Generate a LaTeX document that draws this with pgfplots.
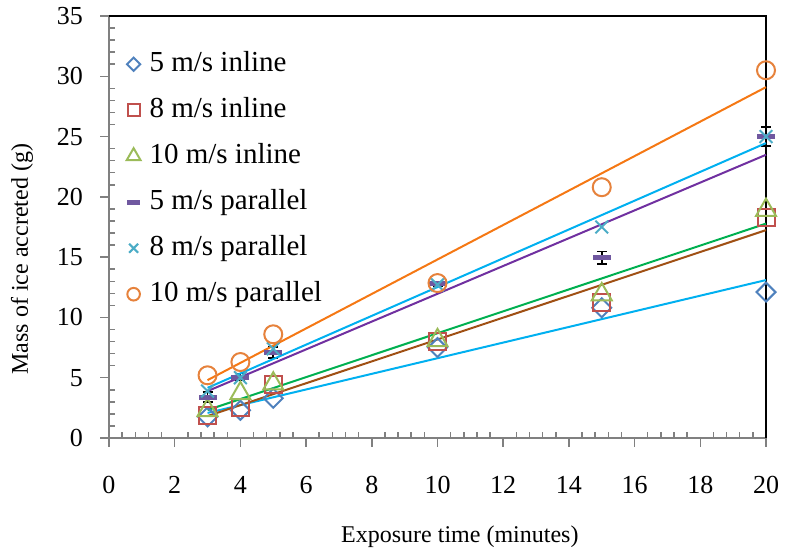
\documentclass[border=0pt]{standalone}
\usepackage{fontspec}
\setmainfont{Liberation Serif}
\usepackage{pgfplots}
\pgfplotsset{compat=1.18}

\definecolor{mkblue}{RGB}{79,129,189}
\definecolor{mkred}{RGB}{192,80,77}
\definecolor{mkgreen}{RGB}{155,187,89}
\definecolor{mkpurple}{RGB}{112,88,160}
\definecolor{mkteal}{RGB}{75,172,198}
\definecolor{mkorange}{RGB}{230,130,60}
\definecolor{lnorange}{RGB}{245,120,20}
\definecolor{lncyan}{RGB}{0,176,240}
\definecolor{lnpurple}{RGB}{112,48,160}
\definecolor{lngreen}{RGB}{0,176,80}
\definecolor{lnbrown}{RGB}{160,80,20}
\definecolor{axgray}{RGB}{128,128,128}

\begin{document}
\begin{tikzpicture}
\begin{axis}[
  name=main,
  at={(0,0)}, anchor=south west,
  scale only axis, width=657pt, height=422pt,
  xmin=0, xmax=20, ymin=0, ymax=35,
  xtick={0,2,...,20}, ytick={0,5,...,35},
  minor x tick num=4, minor y tick num=4,
  xtick pos=bottom, ytick pos=left,
  tick align=inside,
  major tick length=-9pt, minor tick length=6pt,
  axis line style={axgray, line width=2.5pt},
  tick style={axgray, line width=1.5pt},
  clip=false,
  /pgf/number format/assume math mode=true,
  ticklabel style={font=\fontsize{26}{31}\selectfont, inner sep=0pt},
  yticklabel style={anchor=east, xshift=-26pt},
  xticklabel style={anchor=north, yshift=-38pt},
  xlabel={Exposure time (minutes)},
  ylabel={Mass of ice accreted (g)},
  every axis x label/.style={at={([yshift=-99pt]axis description cs:0.534,0)}, anchor=center, font=\fontsize{24}{29}\selectfont},
  every axis y label/.style={at={([xshift=-87pt]axis description cs:0,0.424)}, anchor=center, rotate=90, font=\fontsize{24}{29}\selectfont},
  legend style={draw=none, fill=none, at={(axis description cs:0.022,0.9265)}, anchor=north west,
    font=\fontsize{29}{34}\selectfont, row sep=16pt, column sep=7pt,
    nodes={inner sep=2pt, text height=20pt, text depth=6pt}},
  legend cell align=left,
  legend image code/.code={\draw[#1, only marks, every mark/.append style={scale=0.7}] plot coordinates {(0pt,0pt)};},
  every axis plot/.append style={line width=2pt},
]
\draw[black, line width=2pt] (axis cs:0,35) -- (axis cs:20,35) -- (axis cs:20,0);

% measured points
\addplot[only marks, mkblue, mark=square, mark size=6.7pt, mark options={rotate=45}]
  coordinates {(3,1.75)(4,2.3)(5,3.3)(10,7.5)(15,10.8)(20,12.1)};
\addplot[only marks, mkred, mark=square, mark size=8.5pt]
  coordinates {(3,1.9)(4,2.5)(5,4.4)(10,8.0)(15,11.2)(20,18.3)};
\addplot[only marks, mkgreen, mark=triangle, mark size=11.5pt]
  coordinates {(3,2.3)(4,3.7)(5,4.5)(10,8.1)(15,11.9)(20,18.9)};
\addplot[only marks, mkpurple, mark=-, mark size=9pt, mark options={line width=5pt},
  error bars/.cd, y dir=both, y explicit,
  error bar style={black, line width=1.5pt},
  error mark options={black, mark size=5pt, line width=1.5pt, rotate=90}]
  coordinates {(3,3.4) +- (0,0.4) (4,5.05) +- (0,0.3) (5,7.1) +- (0,0.45)
               (10,12.8) +- (0,0.2) (15,14.95) +- (0,0.5) (20,25.0) +- (0,0.8)};
\addplot[only marks, mkteal, mark=x, mark size=9pt]
  coordinates {(3,3.9)(4,5.0)(5,7.4)(10,12.7)(15,17.5)(20,25.0)};
\addplot[only marks, mkorange, mark=o, mark size=9pt]
  coordinates {(3,5.2)(4,6.3)(5,8.6)(10,12.85)(15,20.8)(20,30.5)};

% linear trend lines (end points)
\addplot[forget plot, lncyan, no marks] coordinates {(3,2.08)(20,13.1)};
\addplot[forget plot, lnbrown, no marks] coordinates {(3,1.82)(20,17.24)};
\addplot[forget plot, lngreen, no marks] coordinates {(3,2.32)(20,17.78)};
\addplot[forget plot, lnpurple, no marks] coordinates {(3,3.89)(20,23.49)};
\addplot[forget plot, lncyan, no marks] coordinates {(3,4.16)(20,24.46)};
\addplot[forget plot, lnorange, no marks] coordinates {(3,4.8)(20,29.1)};

\legend{5 m/s inline, 8 m/s inline, 10 m/s inline, 5 m/s parallel, 8 m/s parallel, 10 m/s parallel}
\end{axis}
\pgfresetboundingbox
\useasboundingbox (-109pt,-116pt) rectangle (678pt,438pt);
\end{tikzpicture}
\end{document}
